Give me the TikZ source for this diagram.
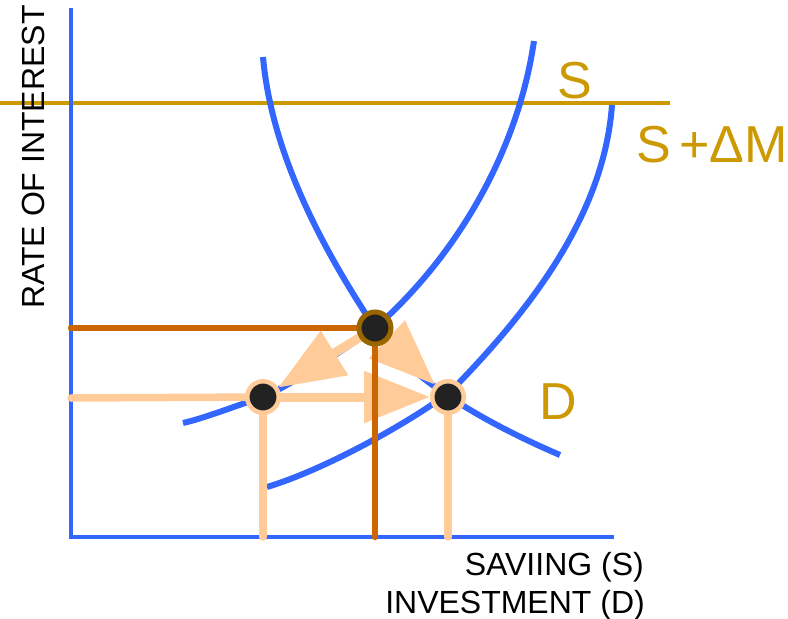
\documentclass[tikz,border=0pt]{standalone}
\usepackage{fontspec}
\setmainfont{Liberation Sans}
\usetikzlibrary{arrows.meta}
\definecolor{cblue}{HTML}{3366FF}
\definecolor{cgold}{HTML}{CC9900}
\definecolor{corange}{HTML}{CC6600}
\definecolor{cpeach}{HTML}{FFCC99}
\definecolor{cbrown}{HTML}{996600}
\definecolor{cdark}{HTML}{222222}
\pgfdeclarelayer{bg}
\pgfdeclarelayer{mid}
\pgfdeclarelayer{upper}
\pgfsetlayers{bg,mid,upper,main}
\tikzset{
  axisline/.style={cblue, line width=4.5pt},
  curve/.style={cblue, line width=6pt},
  goldline/.style={cgold, line width=4pt},
  orangeline/.style={corange, line width=6.5pt, line cap=round},
  peachline/.style={cpeach, line width=7.5pt, line cap=round},
  peacharrow/.style={cpeach, line width=9pt, -{Triangle[length=66pt,width=50pt]}},
  eqpoint/.style={circle, fill=cdark, draw=cbrown, line width=5pt, minimum size=32pt, inner sep=0pt},
  newpoint/.style={circle, fill=cdark, draw=cpeach, line width=4.5pt, minimum size=31.5pt, inner sep=0pt},
  biglabel/.style={text=cgold, font=\fontsize{52}{60}\selectfont, inner sep=0pt},
  axlabel/.style={text=black, font=\fontsize{32}{38}\selectfont, inner sep=0pt}
}
\begin{document}
\begin{tikzpicture}[x=1pt, y=-1pt]
\useasboundingbox (0,0) rectangle (788,619);
% points
\node[eqpoint] (E) at (375,328) {};
\node[newpoint] (L) at (263,397) {};
\node[newpoint] (R) at (448,397) {};
% coordinates
\coordinate (O) at (71,537);
\coordinate (ytop) at (71,8);
\coordinate (xend) at (614,537);
\coordinate (gL) at (0,103);
\coordinate (gR) at (670,103);
\coordinate (yE) at (71,328);
\coordinate (yL) at (71,398);
\coordinate (Dtop) at (263,57);
\coordinate (Dend) at (560,455);
\coordinate (Stop) at (534,41);
\coordinate (Send) at (183,423);
\coordinate (Mtop) at (612,105);
\coordinate (Mmid) at (452,390);
\coordinate (Mend) at (267,487);
\begin{pgfonlayer}{bg}
  \draw[goldline] (gL) -- (gR);
  \draw[axisline] (ytop) -- (O) -- (xend);
  % demand curve D
  \draw[curve] (Dtop) .. controls (272,160) and (330,260) .. (E.center)
               .. controls (410,381) and (490,425) .. (Dend);
  % supply curve S
  \draw[curve] (Stop) .. controls (518,150) and (458,255) .. (E.center)
               .. controls (335,355) and (295,383) .. (L.center)
               .. controls (235,406) and (205,418) .. (Send);
  % supply curve S + Delta M
  \draw[curve] (Mtop) .. controls (604,215) and (530,310) .. (Mmid)
               .. controls (420,416) and (330,468) .. (Mend);
  % peach guide lines
  \draw[peachline] (yL) -- (L.center);
  \draw[peachline] (L.center) -- (L |- O);
  \draw[peachline] (R.center) -- (R |- O);
\end{pgfonlayer}
\begin{pgfonlayer}{mid}
  \draw[peacharrow] (L.center) -- (R);
  \draw[peacharrow] (E.center) -- (L);
  \draw[peacharrow] (E.center) -- (R);
\end{pgfonlayer}
\begin{pgfonlayer}{upper}
  \draw[orangeline] (yE) -- (E.center) -- (E |- O);
\end{pgfonlayer}
% labels
\node[biglabel, anchor=base] (lS) at (575,98) {S};
\node[biglabel, anchor=base west] (lSM) at (636,162) {S\,+ΔM};
\node[biglabel, anchor=base west] (lD) at (539,419) {D};
\node[axlabel, anchor=base west, rotate=90] (lR) at (45,309) {RATE OF INTEREST};
\node[axlabel, anchor=base east] (lX1) at (644,575) {SAVIING (S)};
\node[axlabel, anchor=base east] (lX2) at (645,613) {INVESTMENT (D)};
\end{tikzpicture}
\end{document}
